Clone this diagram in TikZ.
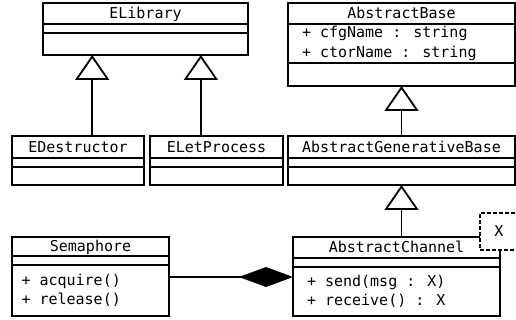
\documentclass[tikz,border=0pt]{standalone}
\usepackage{fontspec}
\newfontfamily\umlfont{DejaVu Sans Mono}
\newcommand\umltext{\umlfont\fontsize{15pt}{19.5pt}\selectfont}
\usetikzlibrary{positioning,arrows.meta,calc}

\begin{document}
\begin{tikzpicture}[
    x=1pt, y=1pt,
    line width=1.8pt,
    uml/.style = {draw, outer sep=0pt, font=\umltext},
    cname/.style = {uml, anchor=north west, inner sep=0pt, text height=10.9pt, text depth=0pt},
    cpart/.style = {uml, below=0pt of #1, inner ysep=0pt, align=flush left},
    inherit/.style = {-{Triangle[length=25pt, width=34pt, fill=white]}},
    compose/.style = {-{Diamond[length=54pt, width=20pt]}},
    tparam/.style = {uml, dash pattern=on 4pt off 2pt, fill=white, inner sep=0pt, anchor=north west}
]
    \useasboundingbox (0,0) rectangle (516,-320);

    % 1. ELibrary and its children
    \node [cname, minimum width=205pt, minimum height=21pt] (elib) at (43,-3) {ELibrary};
    \node [cpart=elib, minimum width=205pt, minimum height=9pt] (elib-a) {};
    \node [cpart=elib-a, minimum width=205pt, minimum height=22pt] (elib-m) {};

    \node [cname, minimum width=132pt, minimum height=22pt] (edes) at (12,-136) {EDestructor};
    \node [cpart=edes, minimum width=132pt, minimum height=9pt] (edes-a) {};
    \node [cpart=edes-a, minimum width=132pt, minimum height=18pt] (edes-m) {};

    \node [cname, minimum width=133pt, minimum height=22pt] (elet) at (150,-136) {ELetProcess};
    \node [cpart=elet, minimum width=133pt, minimum height=9pt] (elet-a) {};
    \node [cpart=elet-a, minimum width=133pt, minimum height=18pt] (elet-m) {};

    % 2. AbstractBase chain
    \node [cname, minimum width=227pt, minimum height=21pt] (abase) at (288,-3) {AbstractBase};
    \node [cpart=abase, text width=199pt, inner xsep=14pt, minimum height=39pt] (abase-a) {+ cfgName : string\\+ ctorName : string};
    \node [cpart=abase-a, minimum width=227pt, minimum height=23pt] (abase-m) {};

    \node [cname, minimum width=227pt, minimum height=22pt] (agen) at (288,-136) {AbstractGenerativeBase};
    \node [cpart=agen, minimum width=227pt, minimum height=9pt] (agen-a) {};
    \node [cpart=agen-a, minimum width=227pt, minimum height=18pt] (agen-m) {};

    \node [cname, minimum width=207pt, minimum height=21pt] (chan) at (293,-237) {AbstractChannel};
    \node [cpart=chan, minimum width=207pt, minimum height=9pt] (chan-a) {};
    \node [cpart=chan-a, text width=179pt, inner xsep=14pt, minimum height=49pt] (chan-m) {+ send(msg : X)\\+ receive() : X};

    % 3. Semaphore
    \node [cname, minimum width=157pt, minimum height=19pt] (sem) at (12,-237) {Semaphore};
    \node [cpart=sem, minimum width=157pt, minimum height=9pt] (sem-a) {};
    \node [cpart=sem-a, text width=138pt, inner xsep=9.5pt, minimum height=51pt] (sem-m) {+ acquire()\\+ release()};

    % 4. Template parameter
    \node [tparam, minimum width=38pt, minimum height=37pt] (xpar) at (480,-213) {X};

    % 5. Generalisations
    \coordinate (libL) at ($(elib-m.south west)!0.24!(elib-m.south east)$);
    \coordinate (libR) at ($(elib-m.south west)!0.77!(elib-m.south east)$);
    \draw [inherit] (edes.north -| libL) -- (libL);
    \draw [inherit] (elet.north -| libR) -- (libR);
    \draw [inherit] (agen.north) -- (abase-m.south);
    \draw [inherit] (chan.north -| agen-m.south) -- (agen-m.south);

    % 6. Composition
    \coordinate (cjoin) at ($(chan-m.north west)+(0,-10)$);
    \draw [compose] (sem-m.east |- cjoin) -- (cjoin);
\end{tikzpicture}
\end{document}
